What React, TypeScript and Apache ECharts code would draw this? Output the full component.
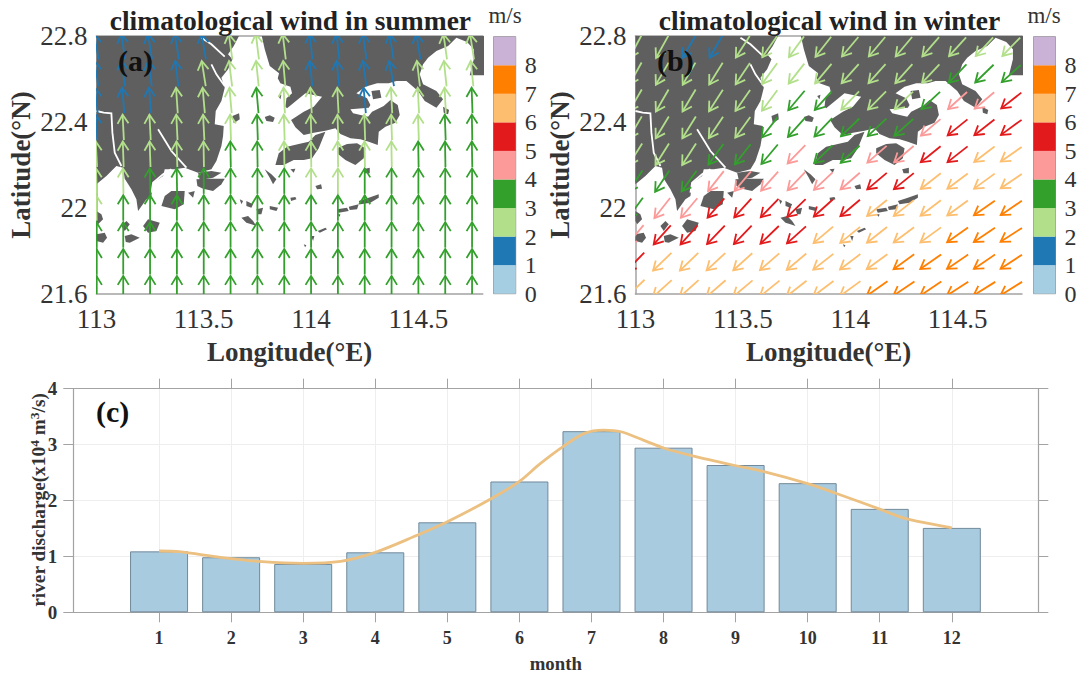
import React, { useEffect, useRef } from "react";
import * as echarts from "echarts";

const SERIF = '"Liberation Serif", "Times New Roman", serif';

const COLORS = ["#a6cee3", "#1f78b4", "#b2df8a", "#33a02c", "#fb9a99", "#e31a1c", "#fdbf6f", "#ff7f00", "#cab2d6"];
const COLORBAR_CELLS = [0, 1, 2, 3, 4, 5, 6, 7, 8];

const WIND_LONS = [113, 113.125, 113.25, 113.375, 113.5, 113.625, 113.75, 113.875, 114, 114.125, 114.25, 114.375, 114.5, 114.625, 114.75];
const WIND_LATS = [22.75, 22.625, 22.5, 22.375, 22.25, 22.125, 22, 21.875, 21.75, 21.625];

// bearing of the wind arrows, degrees clockwise from north
const summerBearing = [
  [-10, -9, -9, -9, -10, -8, -7, -7, -6, -6, -8, -9, -9, -8, -9],
  [-9, -8, -8, -7, -9, -7, -6, -5, -6, -6, -8, -11, -7, -6, -6],
  [-6, -5, -5, -4, -5, -5, -5, -3, -3, -3, -5, -3, -3, -3, -2],
  [-4, -3, -3, -3, -3, -2, -2, -2, -2, -2, -2, -2, -2, -2, -1],
  [-3, -2, -2, -2, -1, -1, -1, -1, -1, -1, -1, -1, -1, -1, -1],
  [-2, -1, -1, -1, 0, 0, 0, 0, 0, 0, 0, 0, 0, 0, 0],
  [-1, 0, 0, 0, 0, 0, 0, 0, 0, 0, 0, 0, 0, 0, 0],
  [0, 0, 0, 0, 0, 0, 0, 0, 0, 0, 0, 0, 0, 0, 0],
  [0, 0, 0, 0, 0, 0, 0, 0, 0, 0, 0, 0, 0, 0, 0],
  [0, 0, 0, 0, 0, 0, 0, 0, 0, 0, 0, 0, 0, 0, 0],
];
const summerSpeed = [
  [1.5, 1.5, 1.5, 1.5, 1.5, 2.5, 2.5, 2.5, 1.5, 1.5, 1.5, 1.5, 1.5, 2.5, 2.5],
  [1.5, 1.5, 1.5, 1.5, 2.5, 2.5, 2.5, 2.5, 1.5, 1.5, 1.5, 1.5, 2.5, 2.5, 2.5],
  [1.5, 1.5, 1.5, 2.5, 2.5, 2.5, 3.5, 2.5, 2.5, 2.5, 1.5, 2.5, 2.5, 2.5, 3.5],
  [1.5, 2.5, 2.5, 2.5, 2.5, 2.5, 3.5, 2.5, 2.5, 2.5, 2.5, 2.5, 2.5, 3.5, 3.5],
  [2.5, 2.5, 2.5, 2.5, 2.5, 3.5, 3.5, 2.5, 2.5, 2.5, 2.5, 2.5, 3.5, 3.5, 3.5],
  [2.5, 2.5, 3.5, 3.5, 3.5, 3.5, 3.5, 3.5, 2.5, 2.5, 3.5, 3.5, 3.5, 3.5, 3.5],
  [2.5, 3.5, 3.5, 3.5, 3.5, 3.5, 3.5, 3.5, 3.5, 3.5, 3.5, 3.5, 3.5, 3.5, 3.5],
  [3.5, 3.5, 3.5, 3.5, 3.5, 3.5, 3.5, 3.5, 3.5, 3.5, 3.5, 3.5, 3.5, 3.5, 3.5],
  [3.5, 3.5, 3.5, 3.5, 3.5, 3.5, 3.5, 3.5, 3.5, 3.5, 3.5, 3.5, 3.5, 3.5, 3.5],
  [3.5, 3.5, 3.5, 3.5, 3.5, 3.5, 3.5, 3.5, 3.5, 3.5, 3.5, 3.5, 3.5, 3.5, 3.5],
];
const winterBearing = [
  [208, 209, 210, 210, 213, 215, 216, 218, 220, 220, 220, 221, 222, 223, 224],
  [209, 210, 210, 212, 214, 216, 218, 220, 222, 222, 222, 223, 224, 226, 228],
  [210, 210, 211, 213, 215, 217, 220, 222, 224, 225, 226, 227, 228, 230, 232],
  [210, 211, 212, 214, 216, 218, 222, 224, 226, 227, 228, 230, 231, 232, 234],
  [212, 212, 213, 216, 218, 220, 224, 226, 228, 229, 230, 231, 232, 233, 235],
  [214, 214, 216, 218, 220, 222, 224, 227, 229, 230, 231, 232, 233, 234, 236],
  [216, 218, 220, 221, 222, 224, 226, 228, 230, 231, 232, 233, 234, 235, 236],
  [220, 222, 222, 224, 224, 226, 228, 230, 231, 232, 233, 234, 235, 236, 237],
  [224, 226, 226, 227, 228, 229, 230, 232, 233, 234, 234, 235, 236, 236, 237],
  [226, 228, 228, 229, 230, 231, 232, 233, 234, 235, 236, 236, 237, 238, 238],
];
const winterSpeed = [
  [2.5, 2.5, 1.5, 1.5, 2.5, 2.5, 2.5, 2.5, 2.5, 2.5, 2.5, 2.5, 2.5, 2.5, 2.5],
  [2.5, 2.5, 2.5, 2.5, 2.5, 2.5, 2.5, 2.5, 2.5, 2.5, 2.5, 2.5, 3.5, 3.5, 3.5],
  [2.5, 2.5, 2.5, 2.5, 2.5, 2.5, 3.5, 3.5, 2.5, 2.5, 2.5, 3.5, 4.5, 4.5, 5.5],
  [2.5, 2.5, 2.5, 2.5, 2.5, 3.5, 3.5, 3.5, 3.5, 3.5, 3.5, 4.5, 5.5, 5.5, 5.5],
  [2.5, 2.5, 2.5, 3.5, 3.5, 3.5, 4.5, 3.5, 3.5, 4.5, 4.5, 5.5, 5.5, 6.5, 6.5],
  [3.5, 3.5, 3.5, 4.5, 4.5, 4.5, 4.5, 4.5, 4.5, 5.5, 5.5, 6.5, 6.5, 6.5, 6.5],
  [3.5, 4.5, 4.5, 5.5, 5.5, 5.5, 5.5, 5.5, 5.5, 6.5, 6.5, 6.5, 6.5, 7.5, 7.5],
  [4.5, 5.5, 5.5, 5.5, 5.5, 5.5, 5.5, 6.5, 6.5, 6.5, 6.5, 6.5, 7.5, 7.5, 7.5],
  [5.5, 6.5, 6.5, 6.5, 6.5, 6.5, 6.5, 6.5, 6.5, 6.5, 7.5, 7.5, 7.5, 7.5, 7.5],
  [6.5, 6.5, 6.5, 6.5, 6.5, 6.5, 6.5, 6.5, 6.5, 7.5, 7.5, 7.5, 7.5, 7.5, 7.5],
];

// Coast traced in units of 1/644 degree east of 113E and 1/645 degree south of 22.8N.
const landTrace: number[][][] = [
  [[0, -5], [430, -5], [425, 5], [412, 30], [395, 55], [408, 70], [395, 100], [375, 125], [385, 155], [375, 195], [358, 225], [355, 265], [382, 270], [380, 300], [375, 330], [360, 375], [345, 400], [305, 410], [265, 395], [235, 400], [205, 400], [200, 420], [170, 440], [165, 480], [150, 490], [125, 525], [120, 490], [105, 460], [85, 428], [80, 395], [60, 390], [30, 420], [0, 445]],
  [[495, -5], [1170, -5], [1170, 118], [1120, 118], [1132, 70], [1132, 40], [1112, 18], [1080, 5], [1055, 30], [1020, 45], [995, 65], [980, 85], [970, 115], [980, 145], [1020, 165], [1040, 190], [1020, 215], [985, 195], [965, 165], [930, 135], [900, 135], [877, 142], [842, 142], [807, 152], [780, 172], [812, 187], [822, 207], [817, 215], [762, 220], [770, 232], [815, 242], [827, 227], [862, 210], [882, 192], [904, 207], [910, 237], [897, 260], [867, 272], [847, 287], [844, 327], [817, 317], [792, 310], [762, 307], [732, 294], [717, 277], [687, 284], [652, 290], [622, 297], [597, 274], [584, 252], [622, 227], [652, 212], [677, 182], [627, 172], [572, 217], [567, 212], [570, 187], [587, 172], [582, 152], [552, 142], [544, 127], [548, 112], [520, 90], [505, 40]],
  [[537, 387], [547, 352], [572, 332], [607, 324], [637, 317], [657, 297], [687, 287], [677, 312], [667, 337], [647, 367], [622, 372], [592, 372], [562, 387]],
  [[722, 337], [752, 324], [782, 322], [807, 337], [802, 367], [777, 387], [747, 372], [722, 352]],
  [[825, 165], [850, 162], [855, 185], [830, 190]],
  [[1040, 212], [1058, 222], [1055, 235], [1042, 230]],
  [[195, 510], [205, 480], [225, 465], [265, 465], [262, 505], [235, 520]],
  [[140, 570], [155, 550], [190, 560], [180, 585], [155, 590]],
  [[85, 600], [105, 595], [130, 605], [100, 620], [88, 618]],
  [[75, 570], [90, 555], [100, 565], [85, 585]],
  [[0, 525], [15, 535], [20, 550], [5, 565], [0, 555]],
  [[0, 595], [25, 590], [32, 605], [20, 620], [0, 615]],
  [[300, 430], [340, 428], [385, 428], [375, 445], [350, 465], [320, 458], [303, 450]],
  [[305, 410], [345, 405], [375, 410], [350, 425], [310, 432]],
  [[275, 470], [295, 465], [290, 485]],
  [[505, 243], [520, 238], [535, 245], [530, 258], [510, 255]],
  [[408, 240], [428, 232], [430, 250], [412, 262]],
  [[545, 180], [555, 176], [552, 190]],
  [[505, 400], [525, 415], [540, 430], [530, 445], [520, 425]],
  [[435, 545], [455, 540], [470, 555], [480, 570], [465, 565], [450, 560]],
  [[480, 520], [500, 515], [495, 535], [485, 535]],
  [[520, 510], [545, 515], [540, 525], [520, 520]],
  [[450, 495], [470, 505], [465, 515], [450, 510]],
  [[430, 490], [440, 495], [435, 505]],
  [[657, 450], [674, 445], [677, 458], [662, 460]],
  [[582, 485], [597, 483], [600, 490], [584, 495]],
  [[722, 520], [752, 515], [757, 525], [727, 530]],
  [[757, 512], [787, 505], [782, 520], [760, 522]],
  [[787, 495], [817, 485], [847, 475], [847, 485], [822, 500], [792, 505]],
  [[664, 585], [687, 575], [692, 580], [670, 590]],
  [[722, 535], [732, 535], [730, 542]],
  [[644, 600], [654, 600], [650, 615]],
  [[622, 625], [630, 628], [626, 634]],
  [[800, 400], [820, 395], [820, 412], [804, 412]],
  [[582, 400], [597, 398], [592, 410]],
];
const riverTrace: number[][][] = [
  [[0, 225], [22, 230], [45, 232], [48, 290], [55, 350], [75, 390]],
  [[185, 280], [210, 320], [225, 345], [270, 395]],
  [[315, 5], [345, 25], [385, 62]],
  [[345, 85], [360, 115], [385, 150]],
  [[165, 470], [170, 440], [200, 415], [225, 400]],
];

const fromTrace = (p: number[]) => [113 + p[0] / 644, 22.8 - p[1] / 645];
const landParts = landTrace.map((part) => part.map(fromTrace));
const riverParts = riverTrace.map((part) => part.map(fromTrace));

const MAP_LON_TICKS = [113, 113.5, 114, 114.5];

const MONTHS = [1, 2, 3, 4, 5, 6, 7, 8, 9, 10, 11, 12];
const dischargeBars = [1.09, 0.985, 0.865, 1.073, 1.61, 2.34, 3.24, 2.945, 2.635, 2.31, 1.85, 1.51];
const dischargeCurveMonth = [1, 1.28, 1.85, 2.43, 3, 3.52, 4, 4.53, 5, 5.62, 6.01, 6.28, 6.6, 6.9, 7.17, 7.41, 7.72, 8.02, 8.4, 8.96, 9.38, 10.01, 10.39, 10.99, 11.35, 12];
const dischargeCurveValue = [1.097, 1.085, 0.984, 0.906, 0.877, 0.912, 1.073, 1.35, 1.62, 2.04, 2.35, 2.65, 2.96, 3.2, 3.26, 3.23, 3.08, 2.93, 2.8, 2.635, 2.52, 2.296, 2.13, 1.85, 1.68, 1.51];

const AXIS_GRAY = "#a3a3a3";
const TEXT = "#333333";
const LAND = "#5f5f5f";
const ARROW_LENGTH = 25.5;

function windRows(bearing: number[][], speed: number[][]) {
  const rows: number[][] = [];
  WIND_LATS.forEach((lat, r) =>
    WIND_LONS.forEach((lon, c) => rows.push([lon, lat, bearing[r][c], speed[r][c]]))
  );
  return rows;
}

function renderArrow(_p: any, api: any) {
  const center = api.coord([api.value(0), api.value(1)]);
  const t = (api.value(2) * Math.PI) / 180;
  const dir = [Math.sin(t), -Math.cos(t)];
  const side = [Math.cos(t), Math.sin(t)];
  const half = ARROW_LENGTH / 2;
  const tip = [center[0] + dir[0] * half, center[1] + dir[1] * half];
  const tail = [center[0] - dir[0] * half, center[1] - dir[1] * half];
  const barb = (s: number) => [tip[0] - dir[0] * 9 + side[0] * s * 5.5, tip[1] - dir[1] * 9 + side[1] * s * 5.5];
  const style = { stroke: COLORS[Math.floor(api.value(3))], lineWidth: 1.8, fill: "none" };
  return {
    type: "group",
    children: [
      { type: "polyline", shape: { points: [tail, tip] }, style },
      { type: "polyline", shape: { points: [barb(-1), tip, barb(1)] }, style },
    ],
  };
}

function mapSeries(xi: number, yi: number, bearing: number[][], speed: number[][]) {
  return [
    {
      type: "custom",
      xAxisIndex: xi,
      yAxisIndex: yi,
      clip: true,
      silent: true,
      encode: { x: 0, y: 1 },
      data: landParts.map((part, i) => [part[0][0], part[0][1], i]),
      renderItem: (_p: any, api: any) => ({
        type: "polygon",
        shape: { points: landParts[api.value(2)].map((q) => api.coord(q)) },
        style: { fill: LAND },
      }),
    },
    {
      type: "custom",
      xAxisIndex: xi,
      yAxisIndex: yi,
      clip: true,
      silent: true,
      encode: { x: 0, y: 1 },
      data: riverParts.map((part, i) => [part[0][0], part[0][1], i]),
      renderItem: (_p: any, api: any) => ({
        type: "polyline",
        shape: { points: riverParts[api.value(2)].map((q) => api.coord(q)) },
        style: { stroke: "#ffffff", lineWidth: 1.8, fill: "none" },
      }),
    },
    {
      type: "custom",
      xAxisIndex: xi,
      yAxisIndex: yi,
      clip: true,
      silent: true,
      encode: { x: 0, y: 1 },
      data: windRows(bearing, speed),
      renderItem: renderArrow,
    },
  ];
}

function colorbarSeries(xi: number, yi: number) {
  return {
    type: "custom",
    xAxisIndex: xi,
    yAxisIndex: yi,
    silent: true,
    encode: { x: 0, y: 1 },
    data: COLORBAR_CELLS.map((k) => [0, k]),
    renderItem: (_p: any, api: any) => {
      const a = api.coord([0, api.value(1)]);
      const b = api.coord([1, api.value(1) + 1]);
      return {
        type: "rect",
        shape: { x: a[0], y: b[1], width: b[0] - a[0], height: a[1] - b[1] },
        style: { fill: COLORS[api.value(1)] },
      };
    },
  };
}

function mapXAxis(grid: number) {
  return [
    {
      type: "value",
      gridIndex: grid,
      min: 113,
      max: 114.8,
      position: "bottom",
      axisLine: { show: true, onZero: false, lineStyle: { color: AXIS_GRAY, width: 1.5 } },
      axisTick: { show: false },
      splitLine: { show: false },
      axisLabel: { customValues: MAP_LON_TICKS, color: TEXT, fontSize: 27, fontFamily: SERIF, margin: 11, showMaxLabel: true },
      name: "Longitude(°E)",
      nameLocation: "middle",
      nameGap: 44,
      nameTextStyle: { color: TEXT, fontSize: 27, fontWeight: "bold", fontFamily: SERIF },
    },
    {
      type: "value",
      gridIndex: grid,
      min: 113,
      max: 114.8,
      position: "top",
      axisLine: { show: true, onZero: false, lineStyle: { color: AXIS_GRAY, width: 1.5 } },
      axisTick: { show: false },
      splitLine: { show: false },
      axisLabel: { show: false },
    },
  ];
}

function mapYAxis(grid: number) {
  return {
    type: "value",
    gridIndex: grid,
    min: 21.6,
    max: 22.8,
    interval: 0.4,
    axisLine: { show: true, onZero: false, lineStyle: { color: AXIS_GRAY, width: 1.5 } },
    axisTick: { show: false },
    splitLine: { show: false },
    axisLabel: { color: TEXT, fontSize: 27, fontFamily: SERIF, margin: 9 },
    name: "Latitude(°N)",
    nameLocation: "middle",
    nameRotate: 90,
    nameGap: 62,
    nameTextStyle: { color: TEXT, fontSize: 27, fontWeight: "bold", fontFamily: SERIF },
  };
}

function cbarXAxis(grid: number) {
  return {
    type: "value",
    gridIndex: grid,
    min: 0,
    max: 1,
    show: false,
  };
}

function cbarYAxis(grid: number) {
  return {
    type: "value",
    gridIndex: grid,
    min: 0,
    max: 9,
    interval: 1,
    position: "right",
    axisLine: { show: false },
    axisTick: { show: false },
    splitLine: { show: false },
    axisLabel: {
      color: TEXT,
      fontSize: 24,
      fontFamily: SERIF,
      margin: 9,
      formatter: (v: number) => (v === 9 ? "" : String(v)),
    },
  };
}

const barAxisStyle = { show: true, onZero: false, lineStyle: { color: AXIS_GRAY, width: 1.2 } };
const barTick = { show: true, length: 10, lineStyle: { color: AXIS_GRAY, width: 1 } };

function buildOption() {
  const boldSmall = { color: TEXT, fontSize: 18, fontWeight: "bold", fontFamily: SERIF };
  const titleStyle = { color: "#222", fontSize: 27.5, fontWeight: "bold", fontFamily: SERIF };
  const unitStyle = { color: TEXT, fontSize: 23, fontWeight: "normal", fontFamily: SERIF };
  return {
    animation: false,
    backgroundColor: "#ffffff",
    title: [
      { text: "climatological wind in summer", left: 290.4, top: 6, padding: 0, textAlign: "center", textStyle: titleStyle },
      { text: "climatological wind in winter", left: 829.5, top: 6, padding: 0, textAlign: "center", textStyle: titleStyle },
      { text: "m/s", left: 505, top: 4, padding: 0, textAlign: "center", textStyle: unitStyle },
      { text: "m/s", left: 1044, top: 4, padding: 0, textAlign: "center", textStyle: unitStyle },
    ],
    grid: [
      { left: 96.4, top: 36, width: 386.4, height: 258, containLabel: false },
      { left: 493.5, top: 36.7, width: 22.2, height: 257, show: true, borderColor: "#8a8a8a", borderWidth: 1, backgroundColor: "transparent" },
      { left: 635.4, top: 36, width: 386.6, height: 258 },
      { left: 1033.5, top: 36.7, width: 22, height: 257, show: true, borderColor: "#8a8a8a", borderWidth: 1, backgroundColor: "transparent" },
      { left: 73.3, top: 388.7, width: 965, height: 223.6 },
    ],
    xAxis: [
      ...mapXAxis(0),
      cbarXAxis(1),
      ...mapXAxis(2),
      cbarXAxis(3),
      {
        type: "value",
        gridIndex: 4,
        min: -0.19,
        max: 13.2,
        position: "bottom",
        axisLine: barAxisStyle,
        axisTick: { ...barTick, customValues: MONTHS },
        splitLine: { show: true, lineStyle: { color: "#eeeeee", width: 1 } },
        axisLabel: { ...boldSmall, customValues: MONTHS, margin: 17 },
        name: "month",
        nameLocation: "middle",
        nameGap: 42,
        nameTextStyle: { ...boldSmall, fontSize: 18.8 },
      },
      {
        type: "value",
        gridIndex: 4,
        min: -0.19,
        max: 13.2,
        position: "top",
        axisLine: barAxisStyle,
        axisTick: { ...barTick, customValues: MONTHS },
        splitLine: { show: false },
        axisLabel: { show: false },
      },
    ],
    yAxis: [
      mapYAxis(0),
      cbarYAxis(1),
      mapYAxis(2),
      cbarYAxis(3),
      {
        type: "value",
        gridIndex: 4,
        min: 0,
        max: 4,
        interval: 1,
        position: "left",
        axisLine: barAxisStyle,
        axisTick: barTick,
        splitLine: { show: true, lineStyle: { color: "#eeeeee", width: 1 } },
        axisLabel: { ...boldSmall, fontSize: 19, margin: 16 },
      },
      {
        type: "value",
        gridIndex: 4,
        min: 0,
        max: 4,
        interval: 1,
        position: "right",
        axisLine: barAxisStyle,
        axisTick: barTick,
        splitLine: { show: false },
        axisLabel: { show: false },
      },
    ],
    series: [
      ...mapSeries(0, 0, summerBearing, summerSpeed),
      colorbarSeries(2, 1),
      ...mapSeries(3, 2, winterBearing, winterSpeed),
      colorbarSeries(5, 3),
      {
        type: "bar",
        xAxisIndex: 6,
        yAxisIndex: 4,
        barWidth: 58,
        silent: true,
        data: MONTHS.map((m, i) => [m, dischargeBars[i]]),
        itemStyle: { color: "#a9cbdf", borderColor: "#71899a", borderWidth: 1 },
      },
      {
        type: "line",
        xAxisIndex: 6,
        yAxisIndex: 4,
        smooth: 0.3,
        showSymbol: false,
        silent: true,
        data: dischargeCurveMonth.map((m, i) => [m, dischargeCurveValue[i]]),
        lineStyle: { color: "#ecc080", width: 2.8 },
      },
    ],
    graphic: [
      { type: "text", x: 118, y: 45, z: 100, style: { text: "(a)", fill: "#111", font: `bold 30px ${SERIF}` } },
      { type: "text", x: 657, y: 45, z: 100, style: { text: "(b)", fill: "#111", font: `bold 30px ${SERIF}` } },
      { type: "text", x: 96, y: 396, z: 100, style: { text: "(c)", fill: "#111", font: `bold 30px ${SERIF}` } },
      {
        type: "text",
        x: 38,
        y: 500,
        rotation: Math.PI / 2,
        z: 100,
        style: {
          text: "{a|river discharge(x10}{s|4}{a| m}{s|3}{a|/s)}",
          align: "center",
          verticalAlign: "middle",
          rich: {
            a: { fill: TEXT, font: `bold 19.3px ${SERIF}` },
            s: { fill: TEXT, font: `bold 13.5px ${SERIF}`, padding: [0, 0, 8, 0] },
          },
        },
      },
    ],
  };
}

export default function App() {
  const ref = useRef<HTMLDivElement>(null);
  useEffect(() => {
    const chart = echarts.init(ref.current!, undefined, { renderer: "svg" });
    chart.setOption(buildOption() as any);
    return () => chart.dispose();
  }, []);
  return <div ref={ref} style={{ position: "absolute", left: 0, top: 0, width: 1081, height: 675 }} />;
}
